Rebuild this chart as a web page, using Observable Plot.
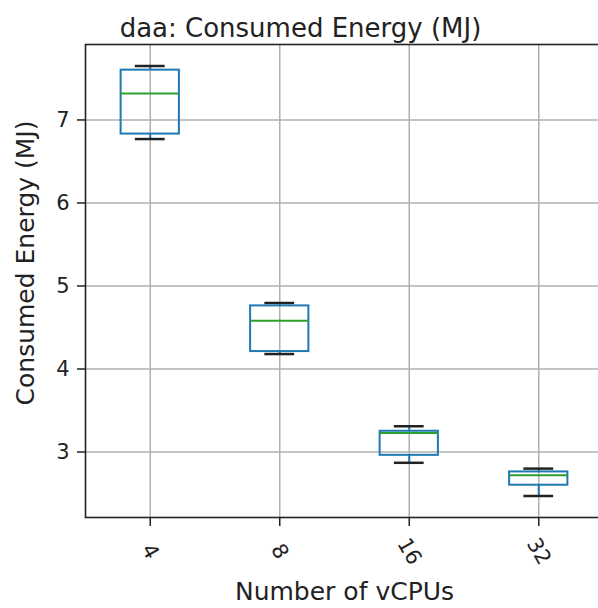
<!DOCTYPE html>
<html>
<head>
<meta charset="utf-8">
<script src="https://cdn.jsdelivr.net/npm/d3@7"></script>
<script src="https://cdn.jsdelivr.net/npm/@observablehq/plot@0.6"></script>
<style>
  html, body { margin: 0; padding: 0; background: #fff; overflow: hidden; }
  #wrap { position: relative; width: 598px; height: 608px; overflow: hidden; }
  #wrap svg { max-width: none !important; display: block; font-family: "DejaVu Sans", sans-serif; }
</style>
</head>
<body>
<div id="wrap"></div>
<script>
const titleText = "daa: Consumed Energy (MJ)";
const xLabel = "Number of vCPUs";
const yLabel = "Consumed Energy (MJ)";
const categories = ["4", "8", "16", "32"];
const whiskerLow  = [6.77, 4.18, 2.87, 2.47];
const q1          = [6.83, 4.21, 2.96, 2.60];
const median      = [7.32, 4.58, 3.23, 2.72];
const q3          = [7.60, 4.76, 3.25, 2.76];
const whiskerHigh = [7.65, 4.795, 3.31, 2.80];
const yTicks = [3, 4, 5, 6, 7];

const data = categories.map((c, i) => ({
  cat: c, pos: i + 1,
  lo: whiskerLow[i], q1: q1[i], med: median[i], q3: q3[i], hi: whiskerHigh[i]
}));

const lo = d3.min(whiskerLow), hi = d3.max(whiskerHigh);
const pad = (hi - lo) * 0.05;
const boxHalf = 0.225, capHalf = 0.115;
const blue = "#1f77b4", green = "#2ca02c";

const chart = Plot.plot({
  width: 620,
  height: 608,
  marginTop: 44,
  marginBottom: 91,
  marginLeft: 85,
  marginRight: 17,
  style: { fontFamily: "DejaVu Sans, sans-serif", color: "#222", background: "white", maxWidth: "none" },
  x: { type: "linear", domain: [0.5, categories.length + 0.5] },
  y: { domain: [lo - pad, hi + pad] },
  marks: [
    Plot.gridX(data.map(d => d.pos), { stroke: "#b0b0b0", strokeOpacity: 1, strokeWidth: 1.5 }),
    Plot.gridY(yTicks, { stroke: "#b0b0b0", strokeOpacity: 1, strokeWidth: 1.5 }),
    Plot.axisY({ ticks: yTicks, tickFormat: d3.format("d"), tickSize: 8, tickPadding: 8, fontSize: 21, label: null, stroke: "#222", strokeWidth: 1.5 }),
    Plot.axisX({ ticks: data.map(d => d.pos), tickSize: 9, tickFormat: () => "", label: null, stroke: "#222", strokeWidth: 1.5 }),
    Plot.text(data, { x: "pos", text: "cat", frameAnchor: "bottom", dy: 34, rotate: 60,
      textAnchor: "middle", lineAnchor: "middle", fontSize: 21, fill: "#222" }),
    // whiskers
    Plot.ruleX(data, { x: "pos", y1: "lo", y2: "q1", stroke: blue, strokeWidth: 2 }),
    Plot.ruleX(data, { x: "pos", y1: "q3", y2: "hi", stroke: blue, strokeWidth: 2 }),
    // caps
    Plot.ruleY(data, { y: "lo", x1: d => d.pos - capHalf, x2: d => d.pos + capHalf, stroke: "#222", strokeWidth: 2.5 }),
    Plot.ruleY(data, { y: "hi", x1: d => d.pos - capHalf, x2: d => d.pos + capHalf, stroke: "#222", strokeWidth: 2.5 }),
    // boxes
    Plot.rect(data, { x1: d => d.pos - boxHalf, x2: d => d.pos + boxHalf, y1: "q1", y2: "q3",
      fill: "none", stroke: blue, strokeWidth: 2 }),
    // medians
    Plot.ruleY(data, { y: "med", x1: d => d.pos - boxHalf, x2: d => d.pos + boxHalf, stroke: green, strokeWidth: 2 }),
    Plot.frame({ stroke: "#222", strokeWidth: 1.6 }),
    // labels
    Plot.text([xLabel], { frameAnchor: "bottom", dy: 74, fontSize: 25, textAnchor: "middle", lineAnchor: "middle", fill: "#222" }),
    Plot.text([yLabel], { frameAnchor: "left", dx: -60, dy: -18, rotate: -90, fontSize: 25, textAnchor: "middle", lineAnchor: "middle", fill: "#222" }),
    Plot.text([titleText], { frameAnchor: "top", dx: -44, dy: -16, fontSize: 26, textAnchor: "middle", lineAnchor: "middle", fill: "#222" })
  ]
});
document.getElementById("wrap").appendChild(chart);
</script>
</body>
</html>
